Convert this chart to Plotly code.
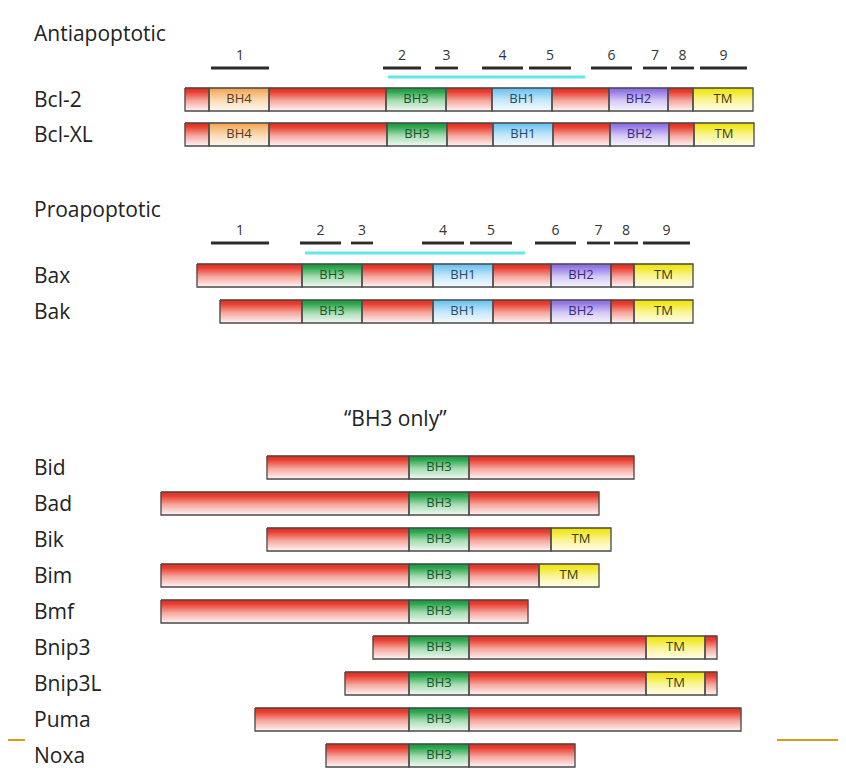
import plotly.graph_objects as go

# --- data: domain boundaries along the schematic axis ---
anti_names = ["Bcl-2", "Bcl-XL"]
anti_bounds = [
    [185, 209, 269, 386, 446, 492, 552, 609, 668, 693, 753],
    [185, 209, 269, 387, 447, 493, 553, 610, 669, 694, 754],
]
anti_domains = ["", "BH4", "", "BH3", "", "BH1", "", "BH2", "", "TM"]
anti_helix_start = [211, 383, 435, 482, 529, 591, 643, 671, 700]
anti_helix_end = [269, 421, 458, 523, 571, 632, 667, 694, 747]
anti_cyan = [388, 585]

pro_names = ["Bax", "Bak"]
pro_bounds = [
    [197, 302, 362, 433, 493, 551, 611, 634, 693],
    [220, 302, 362, 433, 493, 551, 611, 634, 693],
]
pro_domains = ["", "BH3", "", "BH1", "", "BH2", "", "TM"]
pro_helix_start = [211, 300, 351, 422, 470, 535, 587, 614, 643]
pro_helix_end = [269, 341, 373, 464, 512, 576, 610, 638, 690]
pro_cyan = [305, 525]

helix_labels = ["1", "2", "3", "4", "5", "6", "7", "8", "9"]

bh3_names = ["Bid", "Bad", "Bik", "Bim", "Bmf", "Bnip3", "Bnip3L", "Puma", "Noxa"]
bh3_bounds = [
    [267, 409, 469, 634],
    [161, 409, 469, 599],
    [267, 409, 469, 551, 611],
    [161, 409, 469, 539, 599],
    [161, 409, 469, 528],
    [373, 409, 469, 646, 705, 717],
    [345, 409, 469, 646, 705, 717],
    [255, 409, 469, 741],
    [326, 409, 469, 575],
]
bh3_domains = [
    ["", "BH3", ""],
    ["", "BH3", ""],
    ["", "BH3", "", "TM"],
    ["", "BH3", "", "TM"],
    ["", "BH3", ""],
    ["", "BH3", "", "TM", ""],
    ["", "BH3", "", "TM", ""],
    ["", "BH3", ""],
    ["", "BH3", ""],
]

# --- styles ---
# gradient stops top -> bottom, plus text colour
domain_style = {
    "": (["#dc2a1e", "#ea4334", "#f5a49c", "#fff4f4"], None),
    "BH4": (["#f2a04c", "#f6b872", "#fbdcb8", "#fff8ee"], "#5a3a1c"),
    "BH3": (["#1a953a", "#33aa52", "#a4dcb0", "#f0faf2"], "#1d5228"),
    "BH1": (["#62bdec", "#86cdf2", "#c8e9fa", "#f4fbff"], "#274866"),
    "BH2": (["#8866de", "#9d82e8", "#d3c8f6", "#f8f5ff"], "#37287a"),
    "TM": (["#eee10a", "#f3ea2e", "#faf59a", "#fffee8"], "#3a3a10"),
}
GRAD_POS = [0, 0.2, 0.55, 1]
BAR_H = 23          # one gradient strip per unit of height
FONT = "Open Sans"
# page body has an 8px margin all round; plot inside what is left
PAGE_OFF = 8
WIN_W, WIN_H = 846, 780


def grad_color(cols, t):
    for k in range(len(GRAD_POS) - 1):
        if t <= GRAD_POS[k + 1]:
            f = (t - GRAD_POS[k]) / (GRAD_POS[k + 1] - GRAD_POS[k])
            a, b = cols[k].lstrip("#"), cols[k + 1].lstrip("#")
            rgb = [int(a[i:i + 2], 16) * (1 - f) + int(b[i:i + 2], 16) * f for i in (0, 2, 4)]
            return "rgb(%d,%d,%d)" % tuple(round(v) for v in rgb)
    return cols[-1]


# collect all rows first
rows = []
for name, b, yc in zip(anti_names, anti_bounds, [99, 134]):
    rows.append((name, b, anti_domains, yc))
for name, b, yc in zip(pro_names, pro_bounds, [275, 311]):
    rows.append((name, b, pro_domains, yc))
for i, (name, b, d) in enumerate(zip(bh3_names, bh3_bounds, bh3_domains)):
    rows.append((name, b, d, 467 + 36 * i))


def bar_top(yc):
    return yc - BAR_H // 2


fig = go.Figure()

# gradient fill: 1-unit horizontal strips, one trace per (domain, strip)
for dom, (cols, _) in domain_style.items():
    for k in range(BAR_H):
        xs, ys = [], []
        for name, bounds, domains, yc in rows:
            y0 = bar_top(yc) + k
            y1 = y0 + 1
            for i, d in enumerate(domains):
                if d != dom:
                    continue
                x0, x1 = bounds[i], bounds[i + 1]
                xs += [x0, x1, x1, x0, x0, None]
                ys += [y0, y0, y1, y1, y0, None]
        if not xs:
            continue
        c = grad_color(cols, (k + 0.5) / BAR_H)
        fig.add_trace(go.Scatter(
            x=xs, y=ys, mode="lines", fill="toself", fillcolor=c,
            line=dict(width=0.6, color=c), hoverinfo="skip", showlegend=False))

# outlines and segment labels
ox, oy = [], []
tx, ty, tt, tc = [], [], [], []
for name, bounds, domains, yc in rows:
    top, bot = bar_top(yc), bar_top(yc) + BAR_H
    for i, d in enumerate(domains):
        x0, x1 = bounds[i], bounds[i + 1]
        ox += [x0, x1, x1, x0, x0, None]
        oy += [top, top, bot, bot, top, None]
        if d:
            tx.append((x0 + x1) / 2)
            ty.append((top + bot) / 2)
            tt.append(d)
            tc.append(domain_style[d][1])
    fig.add_annotation(x=32, y=yc, text=name, xanchor="left", yanchor="middle",
                       showarrow=False, font=dict(family=FONT, size=21, color="#222222"))
fig.add_trace(go.Scatter(x=ox, y=oy, mode="lines",
                         line=dict(color="#4a4a4a", width=1.3),
                         hoverinfo="skip", showlegend=False))
fig.add_trace(go.Scatter(x=tx, y=ty, mode="text", text=tt,
                         textfont=dict(family=FONT, size=13, color=tc),
                         hoverinfo="skip", showlegend=False))


def draw_helices(starts, ends, cyan, y_line, y_cyan):
    xs, ys = [], []
    for s, e in zip(starts, ends):
        xs += [s, e, None]
        ys += [y_line, y_line, None]
    fig.add_trace(go.Scatter(x=xs, y=ys, mode="lines",
                             line=dict(color="#2b2b2b", width=2.8),
                             hoverinfo="skip", showlegend=False))
    fig.add_trace(go.Scatter(x=cyan, y=[y_cyan, y_cyan], mode="lines",
                             line=dict(color="#62e8ec", width=3),
                             hoverinfo="skip", showlegend=False))
    fig.add_trace(go.Scatter(
        x=[(s + e) / 2 for s, e in zip(starts, ends)],
        y=[y_line - 12] * len(starts), mode="text", text=helix_labels,
        textfont=dict(family=FONT, size=14, color="#333333"),
        hoverinfo="skip", showlegend=False))


draw_helices(anti_helix_start, anti_helix_end, anti_cyan, 68, 77)
draw_helices(pro_helix_start, pro_helix_end, pro_cyan, 243, 253)

# section titles
for txt, x, y, anchor in [("Antiapoptotic", 32, 33, "left"),
                          ("Proapoptotic", 32, 209, "left"),
                          ("\u201cBH3 only\u201d", 395, 418, "center")]:
    fig.add_annotation(x=x, y=y, text=txt, xanchor=anchor, yanchor="middle",
                       showarrow=False, font=dict(family=FONT, size=21, color="#222222"))

x_max = WIN_W - PAGE_OFF
y_max = WIN_H - PAGE_OFF

# orange rule at the bottom edges
for x0, x1 in [(PAGE_OFF, 25), (777, x_max)]:
    fig.add_shape(type="line", x0=x0, x1=x1, y0=740, y1=740,
                  line=dict(color="#d89a1e", width=2))

fig.update_layout(
    width=x_max - PAGE_OFF, height=y_max - PAGE_OFF,
    margin=dict(l=0, r=0, t=0, b=0),
    paper_bgcolor="white", plot_bgcolor="white",
    xaxis=dict(range=[PAGE_OFF, x_max], visible=False, fixedrange=True),
    yaxis=dict(range=[y_max, PAGE_OFF], visible=False, fixedrange=True),
)

fig.write_html("out.html")
